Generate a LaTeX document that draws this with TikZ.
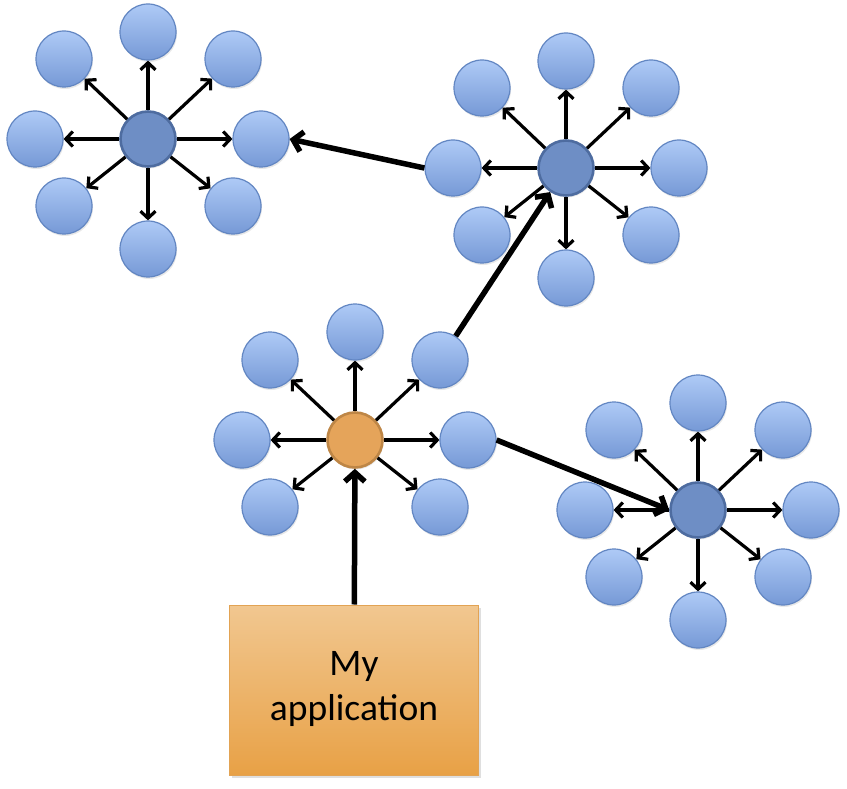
\documentclass[tikz,border=0pt]{standalone}
\usepackage{fontspec}
\setmainfont{Carlito}
\usetikzlibrary{arrows.meta,shadows}
\definecolor{satTop}{RGB}{174,202,246}
\definecolor{satBot}{RGB}{118,153,214}
\definecolor{satLine}{RGB}{98,134,194}
\definecolor{hubFill}{RGB}{110,142,197}
\definecolor{hubLine}{RGB}{78,108,160}
\definecolor{appHub}{RGB}{229,164,90}
\definecolor{appHubLine}{RGB}{190,134,70}
\definecolor{boxTop}{RGB}{241,199,144}
\definecolor{boxBot}{RGB}{232,161,70}
\definecolor{boxLine}{RGB}{226,163,84}
\begin{document}
\begin{tikzpicture}[x=1pt,y=-1pt,
    sat/.style={circle,minimum size=56pt,inner sep=0pt,draw=satLine,line width=1.2pt,
                top color=satTop,bottom color=satBot,
                drop shadow={opacity=0.18,shadow xshift=1pt,shadow yshift=-2pt}},
    hub/.style={circle,minimum size=55pt,inner sep=0pt,draw=hubLine,line width=2.6pt,fill=hubFill,
                drop shadow={opacity=0.18,shadow xshift=1pt,shadow yshift=-2pt}},
    spoke/.style={line width=3.2pt,-{Straight Barb[length=7pt,width=15pt]}},
    link/.style={line width=5.5pt,-{Straight Barb[length=9pt,width=20pt]}},
    appbox/.style={draw=boxLine,line width=1pt,top color=boxTop,bottom color=boxBot,
                minimum width=249pt,minimum height=170pt,
                font=\fontsize{37.5}{42}\selectfont,
                drop shadow={opacity=0.25,shadow xshift=2pt,shadow yshift=-3pt}}]
\useasboundingbox (0,0) rectangle (847,789);
%
% Clusters (full)
\foreach \c/\hx/\hy in {A/148/139,B/566/168,D/698/510} {
  \node[hub] (\c) at (\hx,\hy) {};
  \foreach \n/\dx/\dy in {1/0/-107,2/85/-80,3/113/0,4/85/67,5/0/110,6/-84/67,7/-113/0,8/-84/-80} {
    \node[sat] (\c\n) at ([shift={(\dx,\dy)}]\c.center) {};
    \draw[spoke] (\c) -- (\c\n);
  }
}
%
% My cluster (no bottom node)
\node[hub,fill=appHub,draw=appHubLine] (C) at (355,440) {};
\foreach \n/\dx/\dy in {1/0/-108,2/85/-80,3/113/0,4/85/67,6/-85/67,7/-113/0,8/-85/-80} {
  \node[sat] (C\n) at ([shift={(\dx,\dy)}]C.center) {};
  \draw[spoke] (C) -- (C\n);
}
%
% Application
\node[appbox] (app) at (354,690)
  {\raisebox{-9pt}{\begin{tabular}{@{}c@{}}My\\[3pt]application\end{tabular}}};
%
% Links
\draw[link] (B7.west) -- (A3.east);
\draw[link] (C2) -- (B);
\draw[link] (C3.east) -- (D.west);
\draw[link] (app) -- (C);
%
\end{tikzpicture}
\end{document}
